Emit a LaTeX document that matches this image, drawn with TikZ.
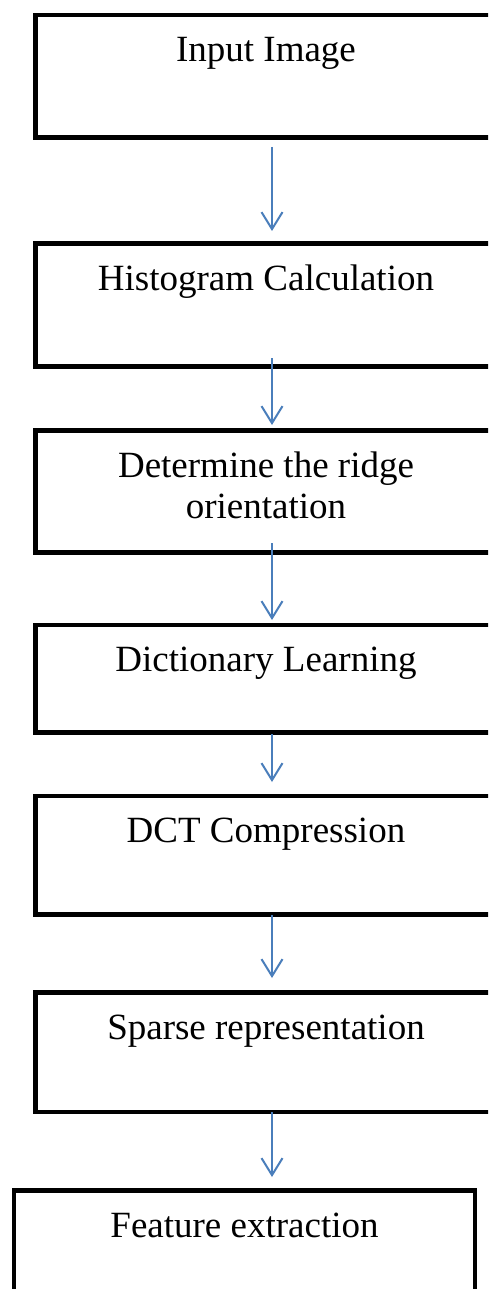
\documentclass[tikz,border=0pt]{standalone}
\usepackage{fontspec}
\setmainfont{Liberation Serif}
\usetikzlibrary{arrows.meta,calc}
\definecolor{arrowblue}{RGB}{74,126,187}
\tikzset{
  stepbox/.style={draw=black,line width=4.7pt,rectangle,inner sep=0pt,outer sep=0pt,fill=none},
  steptext/.style={anchor=base,font=\fontsize{37}{41.7}\selectfont,inner sep=0pt,align=center},
  flowarrow/.style={draw=arrowblue,line width=2pt,-{Straight Barb[length=17pt,width=21pt]}}
}
\begin{document}
\begin{tikzpicture}[x=1pt,y=-1pt]
\clip (0,0) rectangle (488,1289);
\fill[white] (0,0) rectangle (488,1289);
% boxes (line centres)
\node[stepbox,minimum width=460.5pt,minimum height=122.5pt] (b1) at (266,76.25) {};
\node[stepbox,minimum width=460.5pt,minimum height=123pt] (b2) at (266,305) {};
\node[stepbox,minimum width=460.5pt,minimum height=122pt] (b3) at (266,491.5) {};
\node[stepbox,minimum width=460.5pt,minimum height=107.5pt] (b4) at (266,678.75) {};
\node[stepbox,minimum width=460.5pt,minimum height=118.5pt] (b5) at (266,855.25) {};
\node[stepbox,minimum width=460.5pt,minimum height=119.5pt] (b6) at (266,1052.25) {};
\node[stepbox,minimum width=461pt,minimum height=140pt] (b7) at (244.5,1260.5) {};
% texts
\node[steptext] (t1) at ($(b1.north)+(0,46.5)$) {Input Image};
\node[steptext] (t2) at ($(b2.north)+(0,46.5)$) {Histogram Calculation};
\node[steptext] (t3) at ($(b3.north)+(0,88.2)$) {Determine the ridge\\orientation};
\node[steptext] (t4) at ($(b4.north)+(0,46.5)$) {Dictionary Learning};
\node[steptext] (t5) at ($(b5.north)+(0,46.5)$) {DCT Compression};
\node[steptext] (t6) at ($(b6.north)+(0,46.5)$) {Sparse representation};
\node[steptext] (t7) at ($(b7.north)+(0,46.5)$) {Feature extraction};
% arrows
\draw[flowarrow] ($(b1.south)+(6,9.5)$) -- ($(b2.north)+(6,-12.5)$);
\draw[flowarrow] ($(b2.south)+(6,-8.5)$) -- ($(b3.north)+(6,-5.5)$);
\draw[flowarrow] ($(b3.south)+(6,-9.5)$) -- ($(b4.north)+(6,-5)$);
\draw[flowarrow] ($(b4.south)+(6,1.5)$) -- ($(b5.north)+(6,-14)$);
\draw[flowarrow] ($(b5.south)+(6,0.5)$) -- ($(b6.north)+(6,-14.5)$);
\draw[flowarrow] ($(b6.south)+(6,0)$) -- ($(b7.north)+(27.5,-13.5)$);
\end{tikzpicture}
\end{document}
